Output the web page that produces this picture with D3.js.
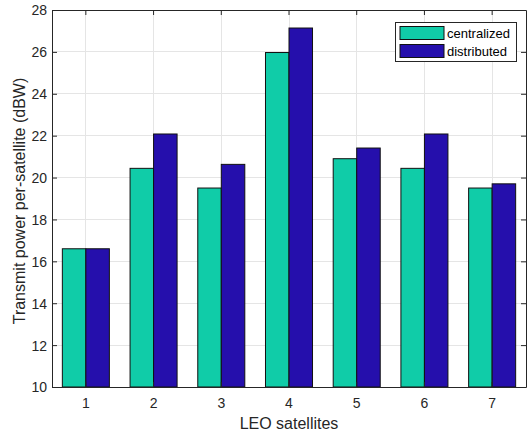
<!DOCTYPE html>
<html><head><meta charset="utf-8">
<script src="https://cdn.jsdelivr.net/npm/d3@7"></script>
<style>body{margin:0;background:#fff;} text{font-family:"Liberation Sans",Arial,Helvetica,sans-serif;}</style>
</head><body>
<svg id="chart" width="528" height="434"></svg>
<script>
const categories = ["1","2","3","4","5","6","7"];
const seriesNames = ["centralized","distributed"];
const centralized = [16.6, 20.44, 19.5, 25.97, 20.9, 20.44, 19.5];
const distributed = [16.6, 22.08, 20.63, 27.14, 21.41, 22.08, 19.7];
const yTicks = [10,12,14,16,18,20,22,24,26,28];
const colors = ["#10cca8","#250fac"];

const svg = d3.select("#chart");
const m = {left:52, right:2, top:10, bottom:47};
const W = 528, H = 434;
const x0 = m.left, x1 = W - m.right, y0 = H - m.bottom, y1 = m.top;

const x = d3.scaleBand().domain(categories).range([x0, x1]).paddingInner(0).paddingOuter(0);
const xs = d3.scaleBand().domain(seriesNames).range([0, x.bandwidth()]).paddingInner(0).paddingOuter(0.44);
const y = d3.scaleLinear().domain([10, 28]).range([y0, y1]);

const axisColor = "#262626";
// grid
const g = svg.append("g");
g.selectAll(".gy").data(yTicks).join("line")
  .attr("x1", x0).attr("x2", x1).attr("y1", d=>y(d)).attr("y2", d=>y(d))
  .attr("stroke", "#e5e5e5").attr("stroke-width", 1).attr("shape-rendering","crispEdges");
g.selectAll(".gx").data(categories).join("line")
  .attr("x1", d=>x(d)+x.bandwidth()/2).attr("x2", d=>x(d)+x.bandwidth()/2).attr("y1", y0).attr("y2", y1)
  .attr("stroke", "#e5e5e5").attr("stroke-width", 1).attr("shape-rendering","crispEdges");

// bars
const data = categories.map((c,i)=>({c, vals:[centralized[i], distributed[i]]}));
const groups = svg.append("g").selectAll("g").data(data).join("g")
  .attr("transform", d=>`translate(${x(d.c)},0)`);
groups.selectAll("rect").data(d=>d.vals.map((v,j)=>({v, s:seriesNames[j], j})))
  .join("rect")
  .attr("x", d=>xs(d.s)).attr("width", xs.bandwidth())
  .attr("y", d=>y(d.v)).attr("height", d=>y0 - y(d.v))
  .attr("fill", d=>colors[d.j]).attr("stroke", "#111").attr("stroke-width", 1);

// axes
const tickLen = 5;
const axL = svg.append("g").attr("transform", `translate(${x0},0)`)
  .call(d3.axisLeft(y).tickValues(yTicks).tickSizeInner(-tickLen).tickSizeOuter(0));
const axR = svg.append("g").attr("transform", `translate(${x1},0)`)
  .call(d3.axisRight(y).tickValues(yTicks).tickSizeInner(-tickLen).tickSizeOuter(0).tickFormat(""));
const axB = svg.append("g").attr("transform", `translate(0,${y0})`)
  .call(d3.axisBottom(x).tickSizeInner(-tickLen).tickSizeOuter(0));
const axT = svg.append("g").attr("transform", `translate(0,${y1})`)
  .call(d3.axisTop(x).tickSizeInner(-tickLen).tickSizeOuter(0).tickFormat(""));
[axL,axR,axB,axT].forEach(a=>{
  a.selectAll("path").attr("stroke", axisColor).attr("stroke-width",1);
  a.selectAll("line").attr("stroke", axisColor);
  a.selectAll("text").attr("fill", axisColor).style("font-size","14px")
   .style("font-family",'"Liberation Sans",Arial,sans-serif');
});
axL.selectAll("text").attr("x", -5).attr("dy", "0.35em");
axB.selectAll("text").attr("y", 21).attr("dy", null);

// labels
svg.append("text").attr("x", (x0+x1)/2).attr("y", 429).attr("text-anchor","middle")
  .attr("fill", axisColor).style("font-size","16px").text("LEO satellites");
svg.append("text").attr("transform", `translate(25,201) rotate(-90)`).attr("text-anchor","middle")
  .attr("fill", axisColor).style("font-size","16px").text("Transmit power per-satellite (dBW)");

// legend
const lg = svg.append("g");
lg.append("rect").attr("x",395.5).attr("y",22.5).attr("width",121).attr("height",39)
  .attr("fill","#fff").attr("stroke",axisColor).attr("stroke-width",1);
seriesNames.forEach((s,i)=>{
  lg.append("rect").attr("x",400).attr("y",26.5+i*18).attr("width",44).attr("height",13)
    .attr("fill",colors[i]).attr("stroke","#111").attr("stroke-width",1);
  lg.append("text").attr("x",447).attr("y",37.5+i*18).attr("fill","#000")
    .style("font-size","13px").text(s);
});
</script>
</body></html>
